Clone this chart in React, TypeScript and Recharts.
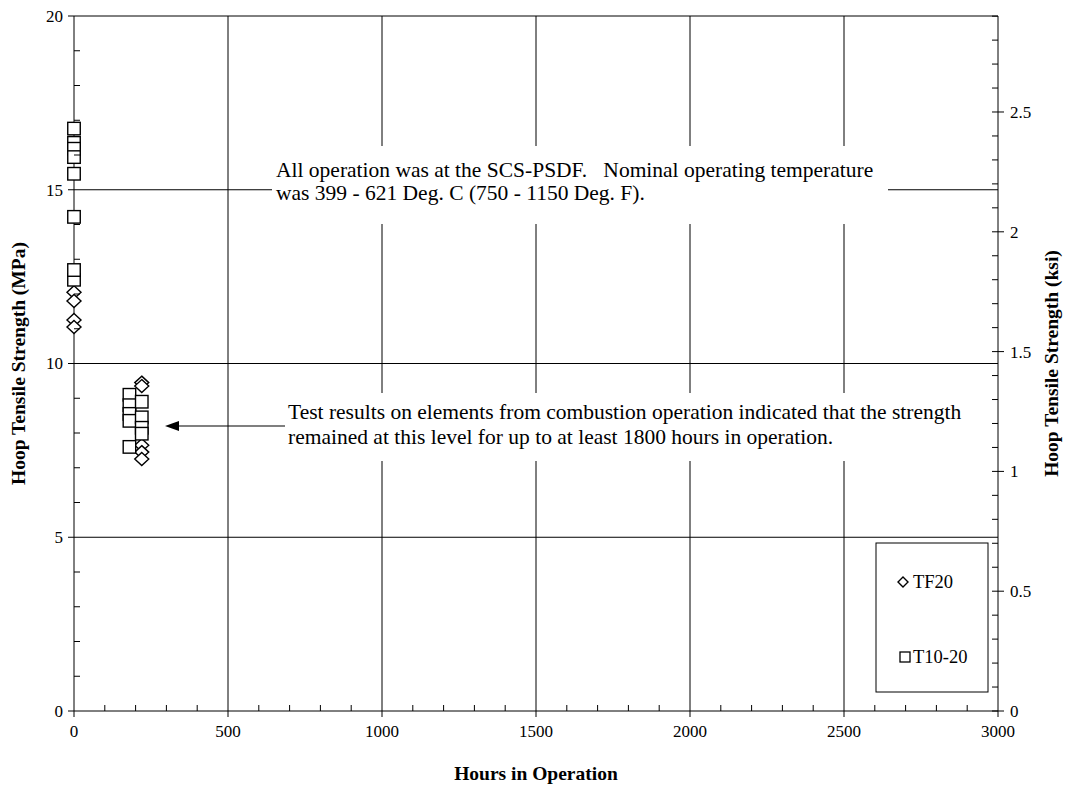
import React from 'react';
import { ScatterChart, Scatter, XAxis, YAxis, ReferenceLine, Label } from 'recharts';

// ---- data ----
const tf20 = [
  { h: 0, s: 12.05 },
  { h: 0, s: 11.8 },
  { h: 0, s: 11.25 },
  { h: 0, s: 11.05 },
  { h: 220, s: 9.45 },
  { h: 220, s: 9.35 },
  { h: 220, s: 7.65 },
  { h: 220, s: 7.45 },
  { h: 220, s: 7.25 },
];
const t1020 = [
  { h: 0, s: 16.35 },
  { h: 0, s: 16.18 },
  { h: 0, s: 15.94 },
  { h: 0, s: 16.76 },
  { h: 0, s: 15.46 },
  { h: 0, s: 14.22 },
  { h: 0, s: 12.41 },
  { h: 0, s: 12.69 },
  { h: 180, s: 9.1 },
  { h: 180, s: 8.8 },
  { h: 180, s: 8.55 },
  { h: 180, s: 8.35 },
  { h: 180, s: 7.6 },
  { h: 220, s: 8.9 },
  { h: 220, s: 8.45 },
  { h: 220, s: 8.15 },
  { h: 220, s: 7.98 },
];

const xTicks = [0, 100, 200, 300, 400, 500, 600, 700, 800, 900, 1000, 1100, 1200, 1300, 1400, 1500, 1600, 1700, 1800, 1900, 2000, 2100, 2200, 2300, 2400, 2500, 2600, 2700, 2800, 2900, 3000];
const xMajor = [0, 500, 1000, 1500, 2000, 2500, 3000];
const yTicks = [0, 1, 2, 3, 4, 5, 6, 7, 8, 9, 10, 11, 12, 13, 14, 15, 16, 17, 18, 19, 20];
const yMajor = [0, 5, 10, 15, 20];
const ksiTicks = [0, 0.1, 0.2, 0.3, 0.4, 0.5, 0.6, 0.7, 0.8, 0.9, 1, 1.1, 1.2, 1.3, 1.4, 1.5, 1.6, 1.7, 1.8, 1.9, 2, 2.1, 2.2, 2.3, 2.4, 2.5, 2.6, 2.7, 2.8, 2.9];
const ksiMajor = [0, 0.5, 1, 1.5, 2, 2.5];
const gridX = [500, 1000, 1500, 2000, 2500];
const gridY = [5, 10, 15];
const MPA_PER_KSI = 6.895;

const note1 = ['All operation was at the SCS-PSDF.   Nominal operating temperature', 'was 399 - 621 Deg. C (750 - 1150 Deg. F).'];
const note2 = ['Test results on elements from combustion operation indicated that the strength', 'remained at this level for up to at least 1800 hours in operation.'];

const FONT = '"Liberation Serif", "Times New Roman", serif';
const TS = 6;
const TM = 4;

const isIn = (arr: number[], v: number) => arr.some((a) => Math.abs(a - v) < 1e-6);

const tickText = { fontFamily: FONT, fontSize: 17 };

const LeftTick = (p: any) => {
  const ax = p.x + TS + TM;
  const v = p.payload.value;
  const major = isIn(yMajor, v);
  return (
    <g>
      <line x1={major ? ax - 6 : ax} x2={major ? ax : ax + 6} y1={p.y} y2={p.y} stroke="#000" />
      {major && (
        <text x={ax - 11} y={p.y} dy="0.35em" textAnchor="end" fill="#000" style={tickText}>{v}</text>
      )}
    </g>
  );
};
const RightTick = (p: any) => {
  const ax = p.x - TS - TM;
  const v = p.payload.value;
  const major = isIn(ksiMajor, v);
  return (
    <g>
      <line x1={ax - 6} x2={major ? ax + 6 : ax} y1={p.y} y2={p.y} stroke="#000" />
      {major && (
        <text x={ax + 12} y={p.y} dy="0.35em" textAnchor="start" fill="#000" style={tickText}>{v}</text>
      )}
    </g>
  );
};
const BottomTick = (p: any) => {
  const ay = p.y - TS - TM;
  const v = p.payload.value;
  const major = isIn(xMajor, v);
  return (
    <g>
      <line x1={p.x} x2={p.x} y1={major ? ay + 6 : ay - 6} y2={ay} stroke="#000" />
      {major && (
        <text x={p.x} y={ay + 26} textAnchor="middle" fill="#000" style={tickText}>{v}</text>
      )}
    </g>
  );
};

const Diamond = (p: any) => {
  const { cx, cy } = p;
  const rx = 7, ry = 6.5;
  return <path d={`M${cx},${cy - ry}L${cx + rx},${cy}L${cx},${cy + ry}L${cx - rx},${cy}Z`} fill="#fff" stroke="#000" strokeWidth={1.4} />;
};
const Square = (p: any) => {
  const { cx, cy } = p;
  const s = 12.5;
  return <rect x={cx - s / 2} y={cy - s / 2} width={s} height={s} fill="#fff" stroke="#000" strokeWidth={1.4} />;
};

const titleStyle = { fontFamily: FONT, fontSize: 19.5, fontWeight: 'bold' as const };

const LeftTitle = (p: any) => {
  const vb = p.viewBox;
  const X = vb.x + 4;
  const Y = vb.y + vb.height / 2;
  return (
    <text x={X} y={Y} transform={`rotate(-90, ${X}, ${Y})`} textAnchor="middle" dominantBaseline="central" fill="#000" style={titleStyle}>
      Hoop Tensile Strength (MPa)
    </text>
  );
};
const RightTitle = (p: any) => {
  const vb = p.viewBox;
  const X = vb.x + 53;
  const Y = vb.y + vb.height / 2;
  return (
    <text x={X} y={Y} transform={`rotate(-90, ${X}, ${Y})`} textAnchor="middle" dominantBaseline="central" fill="#000" style={titleStyle}>
      Hoop Tensile Strength (ksi)
    </text>
  );
};
const BottomTitle = (p: any) => {
  const vb = p.viewBox;
  const X = vb.x + vb.width / 2;
  const Y = vb.y + 62;
  return (
    <text x={X} y={Y} textAnchor="middle" dominantBaseline="central" fill="#000" style={titleStyle}>
      Hours in Operation
    </text>
  );
};

const noteStyle = { fontFamily: FONT, fontSize: 21.5, whiteSpace: 'pre' as const };

export default function App() {
  return (
    <div style={{ position: 'absolute', left: 0, top: 0, width: 1068, height: 789, background: '#fff' }}>
      <ScatterChart width={1068} height={789} margin={{ top: 16, right: 10, bottom: 48, left: 14 }}>
        <XAxis
          type="number"
          dataKey="h"
          domain={[0, 3000]}
          ticks={xTicks}
          interval={0}
          height={30}
          tickSize={TS}
          tickMargin={TM}
          tickLine={false}
          axisLine={{ stroke: '#000' }}
          tick={<BottomTick />}
        >
          <Label content={<BottomTitle />} />
        </XAxis>
        <YAxis
          yAxisId="mpa"
          type="number"
          dataKey="s"
          domain={[0, 20]}
          ticks={yTicks}
          interval={0}
          width={60}
          tickSize={TS}
          tickMargin={TM}
          tickLine={false}
          axisLine={{ stroke: '#000' }}
          tick={<LeftTick />}
        >
          <Label content={<LeftTitle />} />
        </YAxis>
        <YAxis
          yAxisId="ksi"
          orientation="right"
          type="number"
          domain={[0, 20 / MPA_PER_KSI]}
          allowDataOverflow
          ticks={ksiTicks}
          interval={0}
          width={60}
          tickSize={TS}
          tickMargin={TM}
          tickLine={false}
          axisLine={{ stroke: '#000' }}
          tick={<RightTick />}
        >
          <Label content={<RightTitle />} />
        </YAxis>
        {gridX.map((v) => (
          <ReferenceLine key={'gx' + v} yAxisId="mpa" x={v} stroke="#000" strokeWidth={1} />
        ))}
        {gridY.map((v) => (
          <ReferenceLine key={'gy' + v} yAxisId="mpa" y={v} stroke="#000" strokeWidth={1} />
        ))}
        <ReferenceLine yAxisId="mpa" y={20} stroke="#000" strokeWidth={1} />
        <Scatter yAxisId="mpa" name="TF20" data={tf20} shape={<Diamond />} isAnimationActive={false} />
        <Scatter yAxisId="mpa" name="T10-20" data={t1020} shape={<Square />} isAnimationActive={false} />
      </ScatterChart>
      <svg width={1068} height={789} style={{ position: 'absolute', left: 0, top: 0, pointerEvents: 'none' }}>
        <rect x={272} y={146} width={616} height={78} fill="#fff" />
        <text fill="#000" style={noteStyle} xmlSpace="preserve">
          <tspan x={276} y={177}>{note1[0]}</tspan>
          <tspan x={276} y={200}>{note1[1]}</tspan>
        </text>
        <rect x={283} y={393} width={692} height={68} fill="#fff" />
        <text fill="#000" style={noteStyle}>
          <tspan x={288} y={419}>{note2[0]}</tspan>
          <tspan x={288} y={444}>{note2[1]}</tspan>
        </text>
        <line x1={178} x2={285} y1={426} y2={426} stroke="#000" strokeWidth={1.2} />
        <polygon points="165,426 179,421 179,431" fill="#000" />
        <rect x={876} y={543} width={112} height={149} fill="#fff" stroke="#000" strokeWidth={1} />
        <path d="M903,577L908,582L903,587L898,582Z" fill="#fff" stroke="#000" strokeWidth={1.4} />
        <text x={913} y={588} fill="#000" style={{ fontFamily: FONT, fontSize: 18.5 }}>TF20</text>
        <rect x={900} y={652} width={10} height={10} fill="#fff" stroke="#000" strokeWidth={1.3} />
        <text x={913} y={663} fill="#000" style={{ fontFamily: FONT, fontSize: 18.5 }}>T10-20</text>
      </svg>
    </div>
  );
}
